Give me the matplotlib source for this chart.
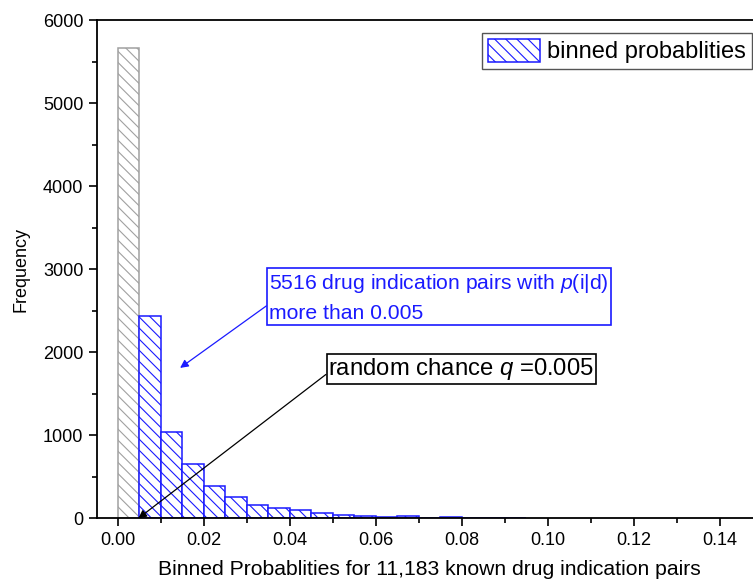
import numpy as np
from matplotlib import pyplot as plt
from matplotlib.ticker import MultipleLocator, FormatStrFormatter

plt.rcParams['font.family'] = ['Liberation Sans', 'DejaVu Sans']
plt.rcParams['mathtext.fontset'] = 'custom'
plt.rcParams['mathtext.rm'] = 'Liberation Sans'
plt.rcParams['mathtext.it'] = 'Liberation Sans:italic'
plt.rcParams['hatch.linewidth'] = 0.8

# bins of width 0.005, left edges
bin_width = 0.005
below_left = [0.000]
below_counts = [5667]
above_left = [0.005, 0.010, 0.015, 0.020, 0.025, 0.030, 0.035, 0.040, 0.045,
              0.050, 0.055, 0.060, 0.065, 0.070, 0.075, 0.080, 0.085, 0.090]
above_counts = [2430, 1044, 650, 389, 261, 160, 128, 100, 60,
                42, 30, 15, 25, 5, 12, 2, 4, 4]

fig = plt.figure(figsize=(7.53, 5.85), dpi=100)
ax = fig.add_axes([0.1284, 0.114, 0.8845, 0.8518])

ax.bar(below_left, below_counts, width=bin_width, align='edge',
       facecolor='white', edgecolor='#a0a0a0', hatch='\\\\\\', linewidth=1.1)
bars = ax.bar(above_left, above_counts, width=bin_width, align='edge',
              facecolor='white', edgecolor='#1a1aff', hatch='\\\\\\', linewidth=1.1,
              label='binned probablities')

ax.set_xlim(-0.0049, 0.15)
ax.set_ylim(0, 6000)
ax.xaxis.set_major_locator(MultipleLocator(0.02))
ax.xaxis.set_minor_locator(MultipleLocator(0.01))
ax.xaxis.set_major_formatter(FormatStrFormatter('%.2f'))
ax.yaxis.set_major_locator(MultipleLocator(1000))
ax.yaxis.set_minor_locator(MultipleLocator(500))
ax.tick_params(which='both', direction='out', labelsize=13, width=1.2)
ax.tick_params(which='major', length=6)
ax.tick_params(which='minor', length=3.5)
ax.spines['right'].set_visible(False)
for s in ['left', 'bottom', 'top']:
    ax.spines[s].set_linewidth(1.3)

ax.set_xlabel('Binned Probablities for 11,183 known drug indication pairs', fontsize=15.2, labelpad=8)
ax.set_ylabel('Frequency', fontsize=13, labelpad=10)

leg = ax.legend(loc='upper right', bbox_to_anchor=(0.9987, 0.9436), bbox_transform=fig.transFigure,
                fontsize=17, fancybox=False, framealpha=1, edgecolor='#555555',
                handlelength=2.2, handleheight=1.1, borderpad=0.25, handletextpad=0.3,
                borderaxespad=0)
leg.get_frame().set_linewidth(1.0)

# arrows start from the left edge of the boxes
ax.annotate('5516 drug indication pairs with $\\mathit{p}$(i|d)\nmore than 0.005',
            xy=(0.0145, 1811), xytext=(0.0352, 2660),
            fontsize=15.2, color='#1a1aff', ha='left', va='center', linespacing=1.55,
            bbox=dict(boxstyle='square,pad=0.1', facecolor='white', edgecolor='#1a1aff', linewidth=1.2),
            arrowprops=dict(arrowstyle='-|>', color='#1a1aff', linewidth=0.9, mutation_scale=12,
                            shrinkA=0, shrinkB=0, relpos=(0, 0.37)))

ax.annotate('random chance $\\mathit{q}$ =0.005',
            xy=(0.0048, 0), xytext=(0.0490, 1793),
            fontsize=17.2, color='black', ha='left', va='center',
            bbox=dict(boxstyle='square,pad=0.08', facecolor='white', edgecolor='black', linewidth=1.2),
            arrowprops=dict(arrowstyle='-|>', color='black', linewidth=0.9, mutation_scale=12,
                            shrinkA=0, shrinkB=0, relpos=(0, 0.38)))

fig.savefig('out.png', dpi=100)
